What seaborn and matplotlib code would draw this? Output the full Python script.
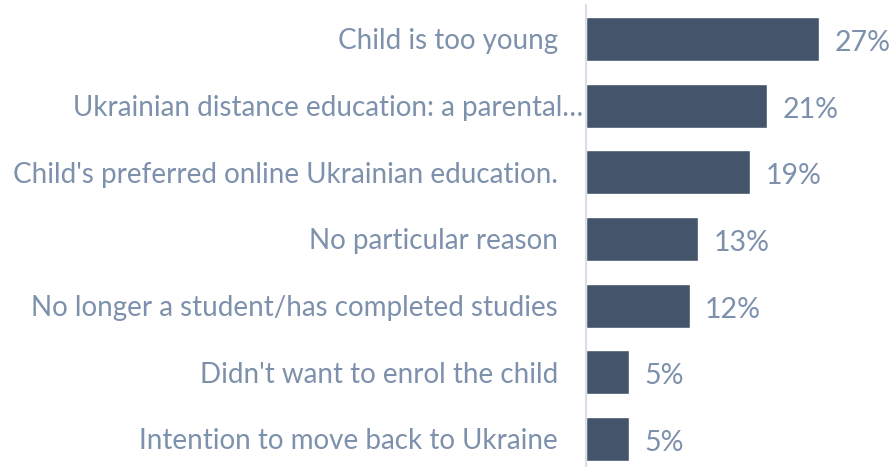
import matplotlib
matplotlib.use("Agg")
import matplotlib.pyplot as plt
import matplotlib.transforms as mtransforms
import pandas as pd
import seaborn as sns

reasons = [
    "Child is too young",
    "Ukrainian distance education: a parental\u2026",
    "Child's preferred online Ukrainian education.",
    "No particular reason",
    "No longer a student/has completed studies",
    "Didn't want to enrol the child",
    "Intention to move back to Ukraine",
]
shares = [27, 21, 19, 13, 12, 5, 5]

BAR = "#44546A"
TXT = "#7D90AC"

df = pd.DataFrame({"reason": reasons, "share": shares})

sns.set_theme(style="white")
plt.rcParams["font.family"] = ["Lato", "DejaVu Sans"]

fig = plt.figure(figsize=(8.94, 4.67), dpi=100)
ax = fig.add_axes([586 / 894, 0, 308 / 894, 461.5 / 467])

sns.barplot(data=df, x="share", y="reason", color=BAR, saturation=1,
            width=0.66, ax=ax)

ax.set_xlim(0, 308 / 8.63)
ax.set_ylim(6.42, -0.5)
ax.set_xlabel("")
ax.set_ylabel("")
ax.set_xticks([])
for side in ["top", "right", "bottom"]:
    ax.spines[side].set_visible(False)
ax.spines["left"].set_color("#D9DEE8")
ax.spines["left"].set_linewidth(1.5)

ax.tick_params(axis="y", length=0, pad=20, labelsize=20, labelcolor=TXT)

# the truncated label sits closer to the axis
lbl = ax.get_yticklabels()[1]
lbl.set_transform(lbl.get_transform() + mtransforms.ScaledTranslation(25 / 100, 0, fig.dpi_scale_trans))

for i, v in enumerate(shares):
    ax.annotate(f"{v}%", (v, i), xytext=(11, -3), textcoords="offset points",
                va="center", ha="left", fontsize=20.5, color=TXT)

fig.savefig("out.png", dpi=100)
